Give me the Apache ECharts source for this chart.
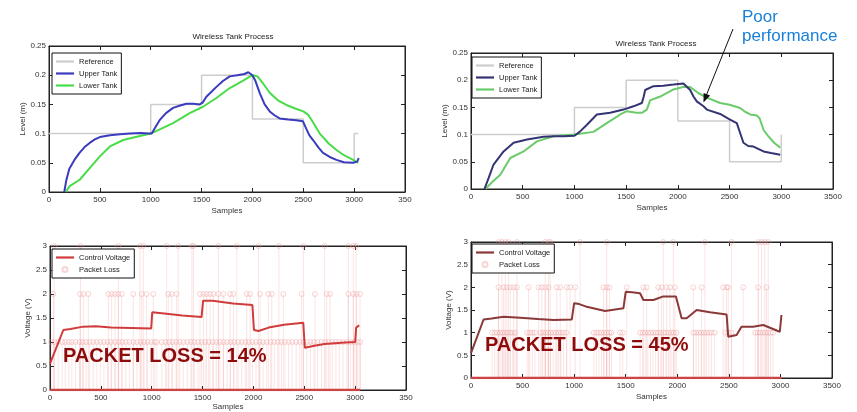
<!DOCTYPE html>
<html><head><meta charset="utf-8">
<script src="https://cdn.jsdelivr.net/npm/echarts@6/dist/echarts.min.js"></script>
<style>html,body{margin:0;padding:0;background:#fff}#c{width:857px;height:412px}</style>
</head><body><div id="c"></div><script>
// ---------- data ----------
const xTicks = [0, 500, 1000, 1500, 2000, 2500, 3000, 3500];
const leftXLabels = ['0', '500', '1000', '1500', '2000', '2500', '3000', '350'];
const rightXLabels = ['0', '500', '1000', '1500', '2000', '2500', '3000', '3500'];

// reference set-point (step)
const tlRefX = [0, 1000, 1500, 2000, 2500, 3000, 3040];
const tlRefY = [0.1, 0.15, 0.2, 0.125, 0.05, 0.1, 0.1];
const trRefX = [0, 1000, 1500, 2000, 2500, 3000];
const trRefY = [0.1, 0.15, 0.2, 0.125, 0.05, 0.1];

// top-left (14% loss)
const tlUpperX = [150,170,200,250,300,350,400,450,500,600,700,800,900,980,1010,1050,1092,1150,1220,1290,1350,1420,1481,1510,1547,1600,1646,1710,1777,1850,1920,1960,2000,2030,2073,2120,2170,2220,2268,2350,2430,2497,2530,2560,2596,2650,2694,2760,2826,2900,2990,3030,3045];
const tlUpperY = [0,0.02,0.04,0.055,0.067,0.077,0.084,0.09,0.094,0.097,0.099,0.1,0.101,0.1,0.1,0.112,0.124,0.135,0.144,0.148,0.151,0.151,0.15,0.153,0.163,0.172,0.18,0.19,0.198,0.2,0.202,0.205,0.2,0.19,0.169,0.15,0.138,0.131,0.126,0.124,0.123,0.121,0.108,0.097,0.089,0.076,0.067,0.06,0.055,0.051,0.05,0.052,0.058];
const tlLowerX = [165,203,302,400,500,599,730,894,1000,1100,1220,1383,1514,1646,1777,1900,2000,2050,2100,2170,2250,2334,2420,2500,2550,2600,2662,2750,2826,2900,2990,3040];
const tlLowerY = [0,0.01,0.021,0.041,0.061,0.078,0.089,0.096,0.1,0.108,0.118,0.135,0.146,0.161,0.178,0.19,0.2,0.198,0.187,0.17,0.157,0.149,0.143,0.138,0.132,0.118,0.1,0.083,0.072,0.063,0.055,0.05];

// top-right (45% loss)
const trUpperX = [130,170,218,315,412,541,702,800,900,1000,1050,1121,1217,1346,1474,1571,1652,1670,1684,1764,1860,1958,2054,2119,2151,2183,2248,2280,2409,2500,2570,2602,2634,2680,2731,2828,2900,2990];
const trUpperY = [0,0.02,0.045,0.069,0.085,0.091,0.096,0.097,0.097,0.098,0.105,0.118,0.137,0.14,0.146,0.152,0.158,0.17,0.182,0.189,0.19,0.192,0.194,0.182,0.17,0.161,0.152,0.146,0.138,0.128,0.121,0.103,0.085,0.079,0.078,0.069,0.066,0.063];
const trLowerX = [140,200,283,380,508,637,798,1000,1184,1313,1443,1507,1600,1652,1700,1732,1829,1958,2060,2119,2200,2280,2409,2500,2602,2650,2700,2763,2790,2830,2870,2930,2990];
const trLowerY = [0,0.012,0.026,0.057,0.069,0.0875,0.097,0.1,0.105,0.121,0.137,0.143,0.14,0.14,0.146,0.163,0.17,0.183,0.188,0.1875,0.176,0.168,0.158,0.155,0.149,0.142,0.137,0.135,0.13,0.108,0.098,0.085,0.076];

// control voltage
const blCtrlX = [0,131,200,327,450,600,800,995,1005,1100,1300,1490,1505,1600,1800,1990,2005,2050,2150,2300,2490,2505,2600,2700,2900,3000,3010,3040];
const blCtrlY = [0.55,1.25,1.27,1.32,1.33,1.3,1.29,1.28,1.62,1.6,1.55,1.52,1.86,1.86,1.8,1.77,1.25,1.23,1.3,1.36,1.4,0.88,0.92,0.96,0.99,1.0,1.3,1.35];
const brCtrlX = [0,122,200,316,477,650,800,977,1000,1050,1123,1300,1478,1500,1560,1639,1671,1768,1865,1987,2042,2091,2188,2317,2478,2494,2575,2623,2736,2833,2994,3010];
const brCtrlY = [0.55,1.29,1.31,1.35,1.33,1.3,1.28,1.29,1.65,1.63,1.57,1.48,1.54,1.9,1.89,1.87,1.72,1.72,1.8,1.8,1.32,1.32,1.5,1.45,1.40,0.91,0.95,1.13,1.13,1.17,1.02,1.39];

// packet-loss samples, grouped by stem height
const plLevels = [1, 2, 3];
const blLoss1 = [10,45,80,120,150,185,215,250,290,320,355,390,425,460,495,530,565,600,640,675,710,745,780,820,855,890,925,960,995,1030,1050,1100,1135,1170,1205,1240,1275,1310,1350,1385,1420,1455,1490,1525,1560,1600,1635,1670,1705,1740,1775,1810,1850,1885,1920,1955,1990,2025,2060,2095,2130,2170,2205,2240,2275,2310,2345,2380,2420,2455,2490,2525,2560,2595,2630,2670,2705,2740,2775,2810,2845,2880,2920,2955,2990,3025,3050];
const blLoss2 = [33,295,328,377,574,606,639,672,705,819,901,950,1016,1163,1196,1245,1475,1508,1540,1573,1606,1655,1704,1770,1803,1934,1967,2065,2147,2180,2294,2474,2605,2720,2753,2933,2982,3015,3048];
const blLoss3 = [40,300,672,885,917,1147,1260,1395,1410,1655,1836,2050,2250,2491,2700,2933,2982,3009];
const brLoss1 = [205,230,255,280,305,330,355,380,405,428,545,570,595,620,672,697,722,747,772,797,822,847,872,897,925,1190,1215,1240,1265,1290,1315,1340,1362,1445,1472,1640,1665,1690,1715,1740,1765,1790,1815,1840,1865,1890,1915,1940,1965,1990,2157,2182,2207,2232,2257,2282,2307,2332,2362,2465,2495,2525,2755,2780,2805,2830,2855,2880,2905,2928];
const brLoss2 = [267,316,348,380,413,445,558,655,687,719,752,832,865,929,961,1010,1284,1316,1342,1510,1671,1703,1816,1848,1897,1929,1977,2155,2236,2445,2478,2494,2639,2784,2865];
const brLoss3 = [268,300,332,364,445,719,752,768,1058,1316,1865,1962,2268,2526,2785,2817,2849,2881];
const blBaseX = [0, 3050];
const brBaseX = [0, 3010];

// ---------- helpers ----------
const FONT = 'Liberation Sans, Arial, sans-serif';
const LINE_ICON = 'path://M0,0H18V2.2H0Z';
const zip = (xs, ys) => xs.map((x, i) => [x, ys[i]]);
const lossPts = (lists) => lists.flatMap((l, k) => l.map(x => [x, plLevels[k]]));

const grids = [
  {left: 49, top: 46, width: 356, height: 146},
  {left: 471, top: 53, width: 362, height: 136},
  {left: 50, top: 246, width: 356, height: 144},
  {left: 471, top: 242, width: 361, height: 136}
].map(g => Object.assign({show: true, borderColor: '#222', borderWidth: 1, backgroundColor: '#fff'}, g));

const xAxis = [], yAxis = [];
function axesFor(i, ymax, yint, yname, xlabels, xGap, yGap) {
  const lineC = {show: true, onZero: false, lineStyle: {color: '#222', width: 1}};
  const tick = {show: true, inside: true, length: 4, lineStyle: {color: '#222'}};
  const nameStyle = {fontSize: 8, color: '#333', fontFamily: FONT};
  const xc = {type: 'value', gridIndex: i, min: 0, max: 3500, interval: 500, splitLine: {show: false}, axisLine: lineC, axisTick: tick};
  xAxis.push(Object.assign({}, xc, {position: 'bottom', name: 'Samples', nameLocation: 'middle', nameGap: xGap, nameTextStyle: nameStyle,
    axisLabel: {fontSize: 8, color: '#333', fontFamily: FONT, margin: 4, formatter: v => xlabels[xTicks.indexOf(v)]}}));
  xAxis.push(Object.assign({}, xc, {position: 'top', axisLabel: {show: false}}));
  const yc = {type: 'value', gridIndex: i, min: 0, max: ymax, interval: yint, splitLine: {show: false}, axisLine: lineC, axisTick: tick};
  yAxis.push(Object.assign({}, yc, {position: 'left', name: yname, nameLocation: 'middle', nameGap: yGap, nameTextStyle: nameStyle,
    axisLabel: {fontSize: 8, color: '#333', fontFamily: FONT, margin: 3}}));
  yAxis.push(Object.assign({}, yc, {position: 'right', axisLabel: {show: false}}));
}
axesFor(0, 0.25, 0.05, 'Level (m)', leftXLabels, 15, 16);
axesFor(1, 0.25, 0.05, 'Level (m)', rightXLabels, 15, 18);
axesFor(2, 3, 0.5, 'Voltage (V)', leftXLabels, 13, 14);
axesFor(3, 3, 0.5, 'Voltage (V)', rightXLabels, 15, 15);

function lineS(name, i, data, color, width, extra) {
  return Object.assign({type: 'line', name, xAxisIndex: 2 * i, yAxisIndex: 2 * i, data, symbol: 'none', showSymbol: false,
    lineStyle: {color, width}, itemStyle: {color}, z: 3, animation: false}, extra || {});
}
function lossSeries(name, i, lists) {
  const pts = lossPts(lists);
  return [
    {type: 'bar', name: name + '_stem', xAxisIndex: 2 * i, yAxisIndex: 2 * i, data: pts, barWidth: 1,
      itemStyle: {color: 'rgba(235,120,120,0.2)'}, z: 1, animation: false, silent: true},
    {type: 'scatter', name, xAxisIndex: 2 * i, yAxisIndex: 2 * i, data: pts, symbol: 'circle', symbolSize: 5,
      itemStyle: {color: 'rgba(255,255,255,0)', borderColor: 'rgba(238,150,150,0.5)', borderWidth: 1}, z: 2, animation: false}
  ];
}

const series = [
  lineS('Reference', 0, zip(tlRefX, tlRefY), '#cdcdcd', 1.5, {step: 'end', z: 2}),
  lineS('Upper Tank', 0, zip(tlUpperX, tlUpperY), '#3b3bbd', 2),
  lineS('Lower Tank', 0, zip(tlLowerX, tlLowerY), '#48dc48', 2, {z: 2}),
  lineS('Reference ', 1, zip(trRefX, trRefY), '#cdcdcd', 1.5, {step: 'end', z: 2}),
  lineS('Upper Tank ', 1, zip(trUpperX, trUpperY), '#343474', 2),
  lineS('Lower Tank ', 1, zip(trLowerX, trLowerY), '#6acb6a', 2, {z: 2}),
  ...lossSeries('Packet Loss', 2, [blLoss1, blLoss2, blLoss3]),
  lineS('base', 2, blBaseX.map(x => [x, 0]), '#c44', 2.5, {z: 2}),
  lineS('Control Voltage', 2, zip(blCtrlX, blCtrlY), '#d03c3c', 2),
  ...lossSeries('Packet Loss ', 3, [brLoss1, brLoss2, brLoss3]),
  lineS('base ', 3, brBaseX.map(x => [x, 0]), '#c44', 2.5, {z: 2}),
  lineS('Control Voltage ', 3, zip(brCtrlX, brCtrlY), '#8a3838', 2)
];

function legendAt(left, top, items) {
  return {left, top, orient: 'vertical',
    data: items.map(([name, icon]) => ({name, icon})),
    itemWidth: 18, itemHeight: 5, itemGap: 3, padding: [4, 4],
    backgroundColor: '#fff', borderColor: '#111', borderWidth: 1, selectedMode: false,
    formatter: n => n.trim(), textStyle: {fontSize: 7.5, color: '#222', fontFamily: FONT, lineHeight: 9}};
}

const option = {
  animation: false,
  backgroundColor: '#fff',
  title: [
    {text: 'Wireless Tank Process', left: 228, top: 28, textAlign: 'center', textStyle: {fontSize: 8, fontWeight: 'normal', color: '#222', fontFamily: FONT}},
    {text: 'Wireless Tank Process', left: 651, top: 35, textAlign: 'center', textStyle: {fontSize: 8, fontWeight: 'normal', color: '#222', fontFamily: FONT}}
  ],
  grid: grids,
  xAxis, yAxis,
  legend: [
    legendAt(52, 53, [['Reference', LINE_ICON], ['Upper Tank', LINE_ICON], ['Lower Tank', LINE_ICON]]),
    legendAt(472, 57, [['Reference ', LINE_ICON], ['Upper Tank ', LINE_ICON], ['Lower Tank ', LINE_ICON]]),
    legendAt(52, 249, [['Control Voltage', LINE_ICON], ['Packet Loss', 'circle']]),
    legendAt(472, 244, [['Control Voltage ', LINE_ICON], ['Packet Loss ', 'circle']])
  ],
  series,
  graphic: [
    {type: 'text', x: 63, y: 356, z: 100, style: {text: 'PACKET LOSS = 14%', fill: '#8e0b0b', font: 'bold 20px ' + FONT, verticalAlign: 'middle'}},
    {type: 'text', x: 485, y: 345, z: 100, style: {text: 'PACKET LOSS = 45%', fill: '#8e0b0b', font: 'bold 20px ' + FONT, verticalAlign: 'middle'}},
    {type: 'text', x: 742, y: 17, z: 100, style: {text: 'Poor', fill: '#1a80d8', font: '17px ' + FONT, verticalAlign: 'middle'}},
    {type: 'text', x: 742, y: 36, z: 100, style: {text: 'performance', fill: '#1a80d8', font: '17px ' + FONT, verticalAlign: 'middle'}},
    {type: 'line', z: 100, shape: {x1: 733, y1: 29, x2: 706, y2: 96}, style: {stroke: '#111', lineWidth: 1}},
    {type: 'polygon', z: 100, shape: {points: [[703.5, 102.5], [710.1, 95.5], [703.6, 92.9]]}, style: {fill: '#111'}}
  ]
};
echarts.init(document.getElementById('c'), null, {renderer: 'canvas'}).setOption(option);
</script></body></html>
